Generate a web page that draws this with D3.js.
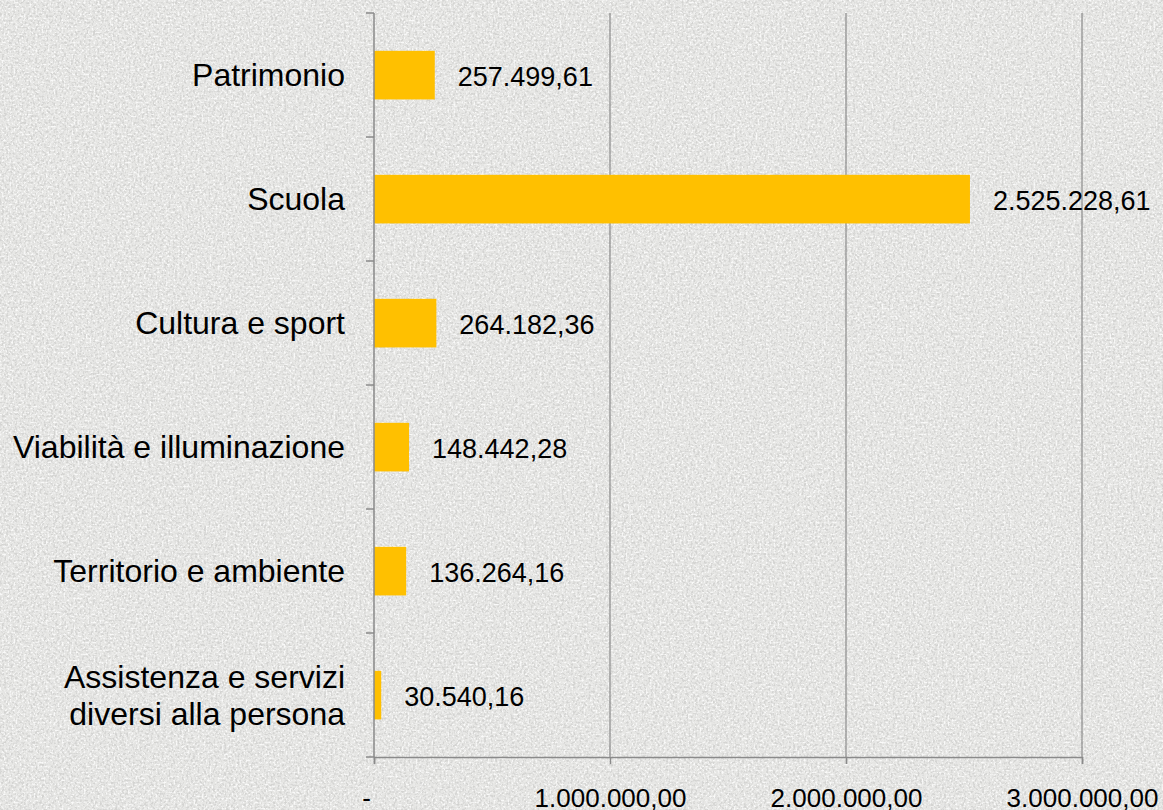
<!DOCTYPE html>
<html>
<head>
<meta charset="utf-8">
<script src="https://cdn.jsdelivr.net/npm/d3@7"></script>
<style>
  html, body { margin: 0; padding: 0; background: #e8e8e6; }
  svg { display: block; font-family: "Liberation Sans", Arial, sans-serif; }
</style>
</head>
<body>
<div id="chart"></div>
<script>
const width = 1163;
const height = 810;

// categories top to bottom, label lines for wrapping
const categories = [
  "Patrimonio",
  "Scuola",
  "Cultura e sport",
  "Viabilità e illuminazione",
  "Territorio e ambiente",
  "Assistenza e servizi diversi alla persona"
];
const labelLines = [
  ["Patrimonio"],
  ["Scuola"],
  ["Cultura e sport"],
  ["Viabilità e illuminazione"],
  ["Territorio e ambiente"],
  ["Assistenza e servizi", "diversi alla persona"]
];
const values = [257499.61, 2525228.61, 264182.36, 148442.28, 136264.16, 30540.16];
const xTicks = [0, 1000000, 2000000, 3000000];

const margin = { top: 13, right: 81, bottom: 53, left: 374 };

const it = d3.formatLocale({ decimal: ",", thousands: ".", grouping: [3], currency: ["", " €"] });
const fmt = it.format(",.2f");

const x = d3.scaleLinear()
    .domain([0, 3000000])
    .range([margin.left, width - margin.right]);

const y = d3.scaleBand()
    .domain(categories)
    .range([margin.top, height - margin.bottom])
    .padding(0);

const svg = d3.select("#chart").append("svg")
    .attr("width", width)
    .attr("height", height);

// granite-ish background: light base + dark and light speckles
const defs = svg.append("defs");
const fd = defs.append("filter").attr("id", "grainDark").attr("x", 0).attr("y", 0).attr("width", "100%").attr("height", "100%");
fd.append("feTurbulence").attr("type", "fractalNoise").attr("baseFrequency", 0.45).attr("numOctaves", 2).attr("seed", 3).attr("result", "n");
fd.append("feColorMatrix").attr("in", "n").attr("type", "matrix")
    .attr("values", "0 0 0 0 0.55  0 0 0 0 0.55  0 0 0 0 0.54  4.5 0 0 0 -2.15");
const fl = defs.append("filter").attr("id", "grainLight").attr("x", 0).attr("y", 0).attr("width", "100%").attr("height", "100%");
fl.append("feTurbulence").attr("type", "fractalNoise").attr("baseFrequency", 0.5).attr("numOctaves", 2).attr("seed", 11).attr("result", "n");
fl.append("feColorMatrix").attr("in", "n").attr("type", "matrix")
    .attr("values", "0 0 0 0 1  0 0 0 0 1  0 0 0 0 1  4 0 0 0 -1.9");

svg.append("rect").attr("width", width).attr("height", height).attr("fill", "#e6e6e4");
svg.append("rect").attr("width", width).attr("height", height).attr("filter", "url(#grainLight)").attr("opacity", 0.8);
svg.append("rect").attr("width", width).attr("height", height).attr("filter", "url(#grainDark)").attr("opacity", 0.55);

const axisColor = "#8a8a8a";
const bw = y.bandwidth();

// vertical gridlines
svg.append("g")
  .selectAll("line")
  .data(xTicks.slice(1))
  .join("line")
    .attr("x1", d => x(d)).attr("x2", d => x(d))
    .attr("y1", margin.top).attr("y2", height - margin.bottom)
    .attr("stroke", axisColor).attr("stroke-width", 1.2);

// bars
svg.append("g")
  .selectAll("rect")
  .data(values)
  .join("rect")
    .attr("x", x(0))
    .attr("y", (d, i) => y(categories[i]) + bw * 0.305)
    .attr("width", d => x(d) - x(0))
    .attr("height", bw * 0.392)
    .attr("fill", "#ffc000");

// value labels
svg.append("g")
  .selectAll("text")
  .data(values)
  .join("text")
    .attr("x", d => x(d) + 23)
    .attr("y", (d, i) => y(categories[i]) + bw / 2)
    .attr("dy", "0.4em")
    .attr("font-size", 27)
    .attr("fill", "#000")
    .text(d => fmt(d));

// x axis
const xAxis = d3.axisBottom(x)
    .tickValues(xTicks)
    .tickSize(7)
    .tickPadding(0)
    .tickFormat(d => d === 0 ? "-" : fmt(d));

const gx = svg.append("g")
    .attr("transform", `translate(0,${height - margin.bottom})`)
    .call(xAxis);
gx.select(".domain").attr("stroke", axisColor).attr("stroke-width", 1.5);
gx.selectAll(".tick line").attr("stroke", axisColor).attr("stroke-width", 1.5);
gx.selectAll(".tick text")
    .attr("font-size", 26)
    .attr("font-family", "Liberation Sans, Arial, sans-serif")
    .attr("fill", "#000")
    .attr("y", 50)
    .attr("dy", 0)
    .attr("dx", d => d === 0 ? -8 : 0);

// y axis (ticks at band boundaries)
const gy = svg.append("g");
gy.append("line")
    .attr("x1", x(0)).attr("x2", x(0))
    .attr("y1", margin.top).attr("y2", height - margin.bottom)
    .attr("stroke", axisColor).attr("stroke-width", 1.5);
const bounds = categories.map(c => y(c)).concat([y(categories[categories.length - 1]) + bw]);
gy.selectAll(".yt")
  .data(bounds)
  .join("line")
    .attr("class", "yt")
    .attr("x1", x(0) - 8).attr("x2", x(0))
    .attr("y1", d => d).attr("y2", d => d)
    .attr("stroke", axisColor).attr("stroke-width", 1.5);

// category labels
const lab = svg.append("g")
  .selectAll("text")
  .data(labelLines)
  .join("text")
    .attr("x", x(0) - 29)
    .attr("y", (d, i) => y(categories[i]) + bw / 2 + 11 - (d.length - 1) * 18.5)
    .attr("text-anchor", "end")
    .attr("font-size", 32)
    .attr("fill", "#000");
lab.selectAll("tspan")
  .data(d => d)
  .join("tspan")
    .attr("x", x(0) - 29)
    .attr("dy", (d, i) => i === 0 ? 0 : 37)
    .text(d => d);
</script>
</body>
</html>
